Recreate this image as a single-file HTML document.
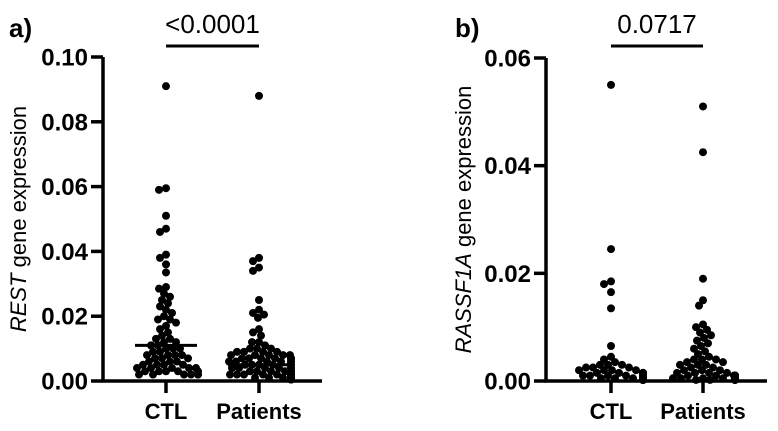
<!DOCTYPE html>
<html><head><meta charset="utf-8"><style>
html,body{margin:0;padding:0;background:#fff;}
svg{display:block;font-family:"Liberation Sans",Arial,sans-serif;}
.tick{font-weight:bold;font-size:24px;}
.cat{font-weight:bold;font-size:22px;}
</style></head><body>
<svg id="chart" width="778" height="431" viewBox="0 0 778 431"></svg>
<script>
const categories = ["CTL", "Patients"];
const restCTL = [0.091,0.059,0.0595,0.051,0.047,0.046,0.039,0.038,0.036,0.0335,0.029,0.0285,0.027,0.026,0.025,0.024,0.023,0.022,0.021,0.020,0.019,0.019,0.018,0.017,0.016,0.015,0.014,0.013,0.013,0.012,0.012,0.011,0.011,0.010,0.010,0.010,0.009,0.009,0.008,0.008,0.008,0.008,0.007,0.007,0.007,0.006,0.006,0.006,0.005,0.005,0.005,0.005,0.004,0.004,0.004,0.004,0.004,0.003,0.003,0.003,0.003,0.003,0.002,0.002,0.002,0.002,0.002,0.002];
const restPatients = [0.088,0.038,0.037,0.035,0.034,0.025,0.022,0.021,0.0205,0.0195,0.016,0.015,0.014,0.012,0.012,0.011,0.010,0.010,0.010,0.009,0.009,0.009,0.009,0.008,0.008,0.008,0.008,0.008,0.007,0.007,0.007,0.007,0.007,0.007,0.006,0.006,0.006,0.006,0.006,0.006,0.005,0.005,0.005,0.005,0.005,0.005,0.004,0.004,0.004,0.004,0.004,0.004,0.003,0.003,0.003,0.003,0.003,0.003,0.002,0.002,0.002,0.002,0.002,0.002,0.002,0.002,0.001,0.001,0.001,0.001,0.001,0.001,0.001,0.001,0.001,0.001,0.0005,0.0005,0.0005,0.0005,0.0005,0.0005,0.0005,0.0005];
const restMedians = [0.011, 0.005];
const rassCTL = [0.055,0.0245,0.0185,0.018,0.0165,0.0135,0.0065,0.0045,0.004,0.0035,0.003,0.003,0.003,0.0025,0.0025,0.0025,0.002,0.002,0.002,0.002,0.0015,0.0015,0.0015,0.0015,0.0015,0.001,0.001,0.001,0.001,0.001,0.001,0.001,0.001,0.001,0.001,0.0005,0.0005,0.0005,0.0005,0.0005,0.0005,0.0005,0.0005,0.0005,0.0005,0.0005,0.0005,0.0002,0.0002,0.0002,0.0002,0.0002,0.0002];
const rassPatients = [0.051,0.0425,0.019,0.015,0.014,0.0105,0.01,0.0095,0.009,0.0085,0.008,0.0075,0.007,0.0065,0.006,0.0055,0.005,0.0045,0.004,0.004,0.004,0.0035,0.0035,0.003,0.003,0.003,0.0025,0.0025,0.002,0.002,0.002,0.0015,0.0015,0.0015,0.0015,0.001,0.001,0.001,0.001,0.001,0.001,0.001,0.001,0.0005,0.0005,0.0005,0.0005,0.0005,0.0005,0.0005,0.0005,0.0005,0.0005,0.0005,0.0005,0.0002,0.0002,0.0002,0.0002,0.0002,0.0002];
const restTicks = ["0.00","0.02","0.04","0.06","0.08","0.10"];
const rassTicks = ["0.00","0.02","0.04","0.06"];

const NS = "http://www.w3.org/2000/svg";
const svg = document.getElementById('chart');
function mk(tag, attrs, parent, text){
  const e = document.createElementNS(NS, tag);
  for (const k in attrs) e.setAttribute(k, attrs[k]);
  if (text !== undefined) e.textContent = text;
  (parent || svg).appendChild(e);
  return e;
}
function swarm(vals, cx, yf, g, name){
  const r = 4, minD = 6.6, placed = [];
  const sorted = vals.slice().sort((a,b)=>b-a);
  sorted.forEach(v=>{
    const y = yf(v);
    let best = 0;
    for (let k=0;k<80;k++){
      const off = (k%2===0?1:-1)*Math.ceil(k/2);
      if (Math.abs(off) > 32) break;
      best = off;
      if (placed.every(p=>Math.hypot(p[0]-(cx+off), p[1]-y) >= minD)) break;
    }
    placed.push([cx+best, y]);
    const c = mk('circle', {cx: cx+best, cy: y, r: r, fill:'#000'}, g);
    
    
  });
}
function panel(o){
  const g = mk('g', {});
  
  
  const yf = v => o.y0 - (v / o.max) * (o.y0 - o.y1);
  const ax = mk('path', {d:`M${o.ax},${o.y1}V${o.y0}H${o.xEnd}`, stroke:'#000','stroke-width':3.5, fill:'none'}, g);
   
  o.ticks.forEach((t,i)=>{
    const v = parseFloat(t), y = yf(v);
    mk('line',{x1:o.ax-12,x2:o.ax,y1:y,y2:y,stroke:'#000','stroke-width':3.5},g);
    const tx = mk('text',{x:o.ax-15,y:y+8.5,'text-anchor':'end',class:'tick'},g,t);
     
  });
  o.cx.forEach((cx,i)=>{
    mk('line',{x1:cx,x2:cx,y1:o.y0,y2:o.y0+12,stroke:'#000','stroke-width':3.5},g);
    const tx = mk('text',{x:cx,y:o.y0+38,'text-anchor':'middle',class:'cat'},g,categories[i]);
     
    swarm(o.series[i], cx, yf, g, o.id + '-' + categories[i].toLowerCase());
    if (o.medians){
      const m = mk('line',{x1:cx-31,x2:cx+31,y1:yf(o.medians[i]),y2:yf(o.medians[i]),stroke:'#000','stroke-width':3},g);
       
    }
  });
  const b = mk('line',{x1:o.cx[0],x2:o.cx[1],y1:46,y2:46,stroke:'#000','stroke-width':3},g);
   
  const p = mk('text',{x:(o.cx[0]+o.cx[1])/2,y:33,'text-anchor':'middle','font-size':'26px'},g,o.p);
   
  const l = mk('text',{x:o.lx,y:37,'font-size':'26px','font-weight':'bold'},g,o.letter);
   
  const ty = (o.y0+o.y1)/2;
  const t = mk('text',{x:o.tx,y:ty,'text-anchor':'middle','font-size':'22px',transform:`rotate(-90 ${o.tx} ${ty})`},g);
   
  mk('tspan',{'font-style':'italic'},t,o.gene);
  mk('tspan',{},t,' gene expression');
}
panel({id:'rest', ax:103, xEnd:322, y0:381, y1:57, max:0.10, ticks:restTicks, cx:[166,259], series:[restCTL,restPatients], medians:restMedians, p:'<0.0001', letter:'a)', lx:9, tx:26, gene:'REST'});
panel({id:'rassf1a', ax:546, xEnd:767, y0:381, y1:58, max:0.06, ticks:rassTicks, cx:[611,703], series:[rassCTL,rassPatients], p:'0.0717', letter:'b)', lx:455, tx:471, gene:'RASSF1A'});
</script>
</body></html>
